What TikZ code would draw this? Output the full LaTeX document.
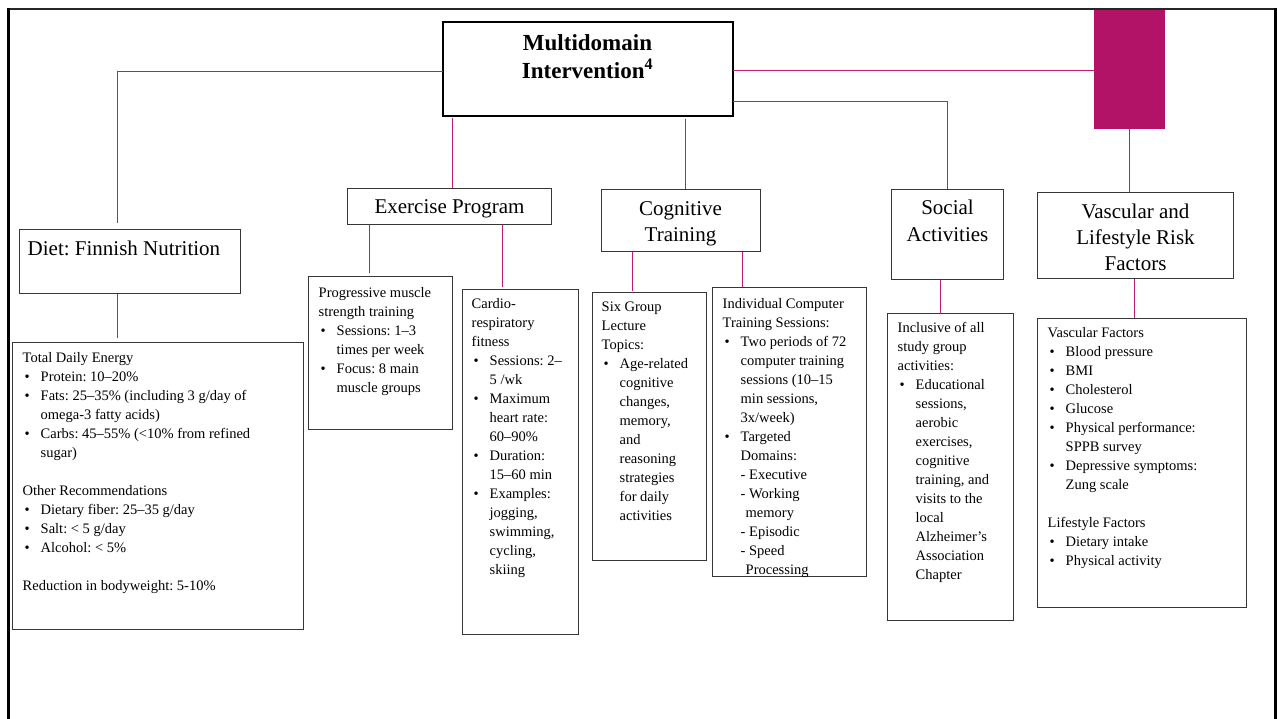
\documentclass[tikz,border=0pt]{standalone}
\usepackage{fontspec}
\setmainfont{Liberation Serif}
\definecolor{conn}{RGB}{190,30,110}
\definecolor{magfill}{RGB}{179,19,102}
\definecolor{boxgray}{RGB}{55,55,55}
\newcommand{\bu}{\makebox[18bp][l]{\hspace*{2bp}•}}
\newcommand{\ct}{\hspace*{18bp}}
\newcommand{\tleft}[1]{\begin{tabular}[t]{@{}l@{}}#1\end{tabular}}
\newcommand{\tcent}[1]{\begin{tabular}[t]{@{}c@{}}#1\end{tabular}}
\frenchspacing
\begin{document}
\begin{tikzpicture}[x=1bp,y=-1bp,
  box/.style={draw=boxgray, line width=1bp, inner sep=0pt, outer sep=0pt, anchor=north west, rectangle},
  mainbox/.style={box, draw=black, line width=2bp},
  conline/.style={draw=conn, line width=1.5bp},
  txt/.style={anchor=base west, inner sep=0pt, font=\fontsize{14.5bp}{19bp}\selectfont},
  head/.style={anchor=base, inner sep=0pt, font=\fontsize{21bp}{26bp}\selectfont}]
\useasboundingbox (0,0) rectangle (1277,719);
\begin{scope}[shift={(0.5,0.5)}]
% frame
\draw[line width=2bp, black!85] (7,8.5) -- (1276,8.5);
\draw[line width=3bp] (8,8) -- (8,719);
\draw[line width=3bp] (1275,8) -- (1275,719);
% boxes
\node[mainbox, minimum width=290bp, minimum height=93bp] (main) at (442,22) {};
\node[box, draw=none, fill=magfill, minimum width=71bp, minimum height=118bp] (mag) at (1093,10) {};
\node[box, minimum width=221bp, minimum height=64bp] (diet) at (19,229) {};
\node[box, minimum width=291bp, minimum height=287bp] (dietc) at (12,342) {};
\node[box, minimum width=204bp, minimum height=36bp] (ex) at (347,188) {};
\node[box, minimum width=144bp, minimum height=153bp] (prog) at (308,276) {};
\node[box, minimum width=116bp, minimum height=345bp] (cardio) at (462,289) {};
\node[box, minimum width=159bp, minimum height=62bp] (cog) at (601,189) {};
\node[box, minimum width=114bp, minimum height=268bp] (six) at (592,292) {};
\node[box, minimum width=154bp, minimum height=289bp] (indiv) at (712,287) {};
\node[box, minimum width=112bp, minimum height=90bp] (soc) at (891,189) {};
\node[box, minimum width=126bp, minimum height=307bp] (incl) at (887,313) {};
\node[box, minimum width=196bp, minimum height=86bp] (vasc) at (1037,192) {};
\node[box, minimum width=209bp, minimum height=289bp] (vascc) at (1037,318) {};
% connectors
\draw[conline, shorten >=6bp] (main.west |- 0,71) -| (diet.north -| 117,0);
\draw[conline] (main.east |- 0,70) -- (mag.west |- 0,70);
\draw[conline] (main.east |- 0,101) -| (soc.north -| 947,0);
\draw[conline, shorten <=2bp] (main.south -| 452,0) -- (ex.north -| 452,0);
\draw[conline, shorten <=3bp] (main.south -| 685,0) -- (cog.north -| 685,0);
\draw[conline] (mag.south -| 1129,0) -- (vasc.north -| 1129,0);
\draw[conline, shorten >=5bp] (diet.south -| 117,0) -- (dietc.north -| 117,0);
\draw[conline, shorten >=4bp] (ex.south -| 369,0) -- (prog.north -| 369,0);
\draw[conline, shorten >=3bp] (ex.south -| 502,0) -- (cardio.north -| 502,0);
\draw[conline, shorten >=2bp] (cog.south -| 632,0) -- (six.north -| 632,0);
\draw[conline, shorten >=1bp] (cog.south -| 742,0) -- (indiv.north -| 742,0);
\draw[conline] (soc.south -| 940,0) -- (incl.north -| 940,0);
\draw[conline, shorten >=1bp] (vasc.south -| 1134,0) -- (vascc.north -| 1134,0);
% headings
\node[head, font=\bfseries\fontsize{23bp}{28bp}\selectfont] (maint) at (587,50) {\tcent{Multidomain\\Intervention\textsuperscript{4}}};
\node[head, anchor=base west] (dieth) at (27,255) {Diet: Finnish Nutrition};
\node[head] (exh) at (449,213) {Exercise Program};
\node[head] (cogh) at (680,215) {\tcent{Cognitive\\Training}};
\node[head, font=\fontsize{21bp}{27bp}\selectfont] (soch) at (947,214) {\tcent{Social\\Activities}};
\node[head] (vasch) at (1135,218) {\tcent{Vascular and\\Lifestyle Risk\\Factors}};
% contents
\node[txt] (diett) at (22,362) {\tleft{Total Daily Energy\\
\bu Protein: 10–20\%\\
\bu Fats: 25–35\% (including 3 g/day of\\
\ct omega-3 fatty acids)\\
\bu Carbs: 45–55\% (<10\% from refined\\
\ct sugar)\\[19bp]
Other Recommendations\\
\bu Dietary fiber: 25–35 g/day\\
\bu Salt: < 5 g/day\\
\bu Alcohol: < 5\%\\[19bp]
Reduction in bodyweight: 5-10\%}};
\node[txt] (progt) at (318,297) {\tleft{Progressive muscle\\
strength training\\
\bu Sessions: 1–3\\
\ct times per week\\
\bu Focus: 8 main\\
\ct muscle groups}};
\node[txt] (cardiot) at (471,308) {\tleft{Cardio-\\
respiratory\\
fitness\\
\bu Sessions: 2–\\
\ct 5 /wk\\
\bu Maximum\\
\ct heart rate:\\
\ct 60–90\%\\
\bu Duration:\\
\ct 15–60 min\\
\bu Examples:\\
\ct jogging,\\
\ct swimming,\\
\ct cycling,\\
\ct skiing}};
\node[txt] (sixt) at (601,311) {\tleft{Six Group\\
Lecture\\
Topics:\\
\bu Age-related\\
\ct cognitive\\
\ct changes,\\
\ct memory,\\
\ct and\\
\ct reasoning\\
\ct strategies\\
\ct for daily\\
\ct activities}};
\node[txt] (indivt) at (722,308) {\tleft{Individual Computer\\
Training Sessions:\\
\bu Two periods of 72\\
\ct computer training\\
\ct sessions (10–15\\
\ct min sessions,\\
\ct 3x/week)\\
\bu Targeted\\
\ct Domains:\\
\ct - Executive\\
\ct - Working\\
\ct \hspace*{5bp}memory\\
\ct - Episodic\\
\ct - Speed\\
\ct \hspace*{5bp}Processing}};
\node[txt] (inclt) at (897,332) {\tleft{Inclusive of all\\
study group\\
activities:\\
\bu Educational\\
\ct sessions,\\
\ct aerobic\\
\ct exercises,\\
\ct cognitive\\
\ct training, and\\
\ct visits to the\\
\ct local\\
\ct Alzheimer’s\\
\ct Association\\
\ct Chapter}};
\node[txt] (vascct) at (1047,337) {\tleft{Vascular Factors\\
\bu Blood pressure\\
\bu BMI\\
\bu Cholesterol\\
\bu Glucose\\
\bu Physical performance:\\
\ct SPPB survey\\
\bu Depressive symptoms:\\
\ct Zung scale\\[19bp]
Lifestyle Factors\\
\bu Dietary intake\\
\bu Physical activity}};
\end{scope}
\end{tikzpicture}
\end{document}
